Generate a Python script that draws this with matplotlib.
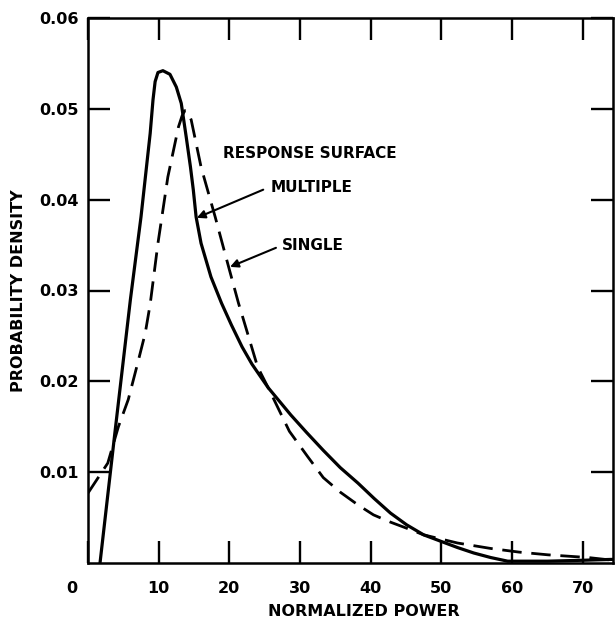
import numpy as np
import matplotlib
matplotlib.use('Agg')
import matplotlib.pyplot as plt
import matplotlib.transforms as mtransforms

# values
multiple_x = [1.7, 3.8, 6.0, 7.5, 8.8, 9.2, 9.5, 9.9, 10.6, 11.6, 12.5, 13.2, 13.9, 14.5, 14.9,
              15.3, 16.0, 17.4, 18.9, 20.3, 21.8, 23.2, 24.7, 25.5, 28.7, 30.9, 33.3, 35.7,
              38.2, 40.5, 42.8, 45.1, 47.5, 49.9, 52.3, 54.6, 57.0, 59.4, 65.0, 70.0, 74.3]
multiple_y = [0.0, 0.0143, 0.0290, 0.0381, 0.0473, 0.0510, 0.0530, 0.0540, 0.0542, 0.0538,
              0.0524, 0.0506, 0.0469, 0.0436, 0.0411, 0.0381, 0.0352, 0.0315, 0.0286, 0.0262,
              0.0238, 0.0219, 0.0202, 0.0193, 0.0163, 0.0144, 0.0124, 0.0105, 0.0088, 0.0071,
              0.0055, 0.0042, 0.0031, 0.0024, 0.0017, 0.0011, 0.0006, 0.0002, 0.0002, 0.0003,
              0.0004]

single_x = [0.0, 2.8, 4.3, 5.7, 6.9, 8.1, 8.8, 9.9, 11.3, 12.8, 13.3, 13.7, 14.1, 14.6, 15.3,
            16.0, 18.0, 19.9, 21.3, 22.0, 24.0, 25.5, 28.5, 31.1, 33.3, 35.7, 38.2, 40.4, 42.8,
            45.2, 47.5, 52.3, 57.0, 61.0, 65.1, 70.8, 74.3]
single_y = [0.0077, 0.0110, 0.0150, 0.0180, 0.0216, 0.0253, 0.0285, 0.0352, 0.0425, 0.0480,
            0.0492, 0.0498, 0.0497, 0.0488, 0.0462, 0.0436, 0.0381, 0.0326, 0.0286, 0.0268,
            0.0216, 0.0193, 0.0145, 0.0117, 0.0094, 0.0078, 0.0064, 0.0053, 0.0045, 0.0038,
            0.0031, 0.0022, 0.0016, 0.0012, 0.0009, 0.0006, 0.0003]

x_ticks = [0, 10, 20, 30, 40, 50, 60, 70]
x_labels = ['0', '10', '20', '30', '40', '50', '60', '70']
y_ticks = [0.01, 0.02, 0.03, 0.04, 0.05, 0.06]
y_labels = ['0.01', '0.02', '0.03', '0.04', '0.05', '0.06']

plt.rcParams['font.family'] = ['DejaVu Sans']
plt.rcParams['font.weight'] = 'bold'

fig = plt.figure(figsize=(6.15, 6.23), dpi=100)
ax = fig.add_axes([88 / 615, 60 / 623, 525 / 615, 545 / 623])

ax.plot(multiple_x, multiple_y, color='black', lw=2.3, solid_joinstyle='round')
ax.plot(single_x, single_y, color='black', lw=2.0, dashes=(7, 3.5))

ax.set_xlim(0, 74.3)
ax.set_ylim(0, 0.06)

ax.set_xticks(x_ticks)
ax.set_xticklabels(x_labels)
ax.set_yticks(y_ticks)
ax.set_yticklabels(y_labels)

ax.tick_params(direction='in', length=16, width=1.7, top=True, right=True,
               labelsize=11.5, colors='black')
ax.tick_params(axis='x', pad=13)
ax.tick_params(axis='y', pad=7)
for s in ax.spines.values():
    s.set_linewidth(1.8)

# the "0" label sits left of the axis corner in the original
lbl0 = ax.get_xticklabels()[0]
lbl0.set_transform(lbl0.get_transform() + mtransforms.ScaledTranslation(-0.16, 0, fig.dpi_scale_trans))

ax.set_xlabel('NORMALIZED POWER', fontsize=11.5, fontweight='bold')
ax.xaxis.set_label_coords(0.526, -0.075)
ax.set_ylabel('PROBABILITY DENSITY', fontsize=11.5, fontweight='bold')
ax.yaxis.set_label_coords(-0.118, 0.5)

ax.text(19.1, 0.0451, 'RESPONSE SURFACE', fontsize=11, fontweight='bold', va='center')
ax.text(25.8, 0.0413, 'MULTIPLE', fontsize=11, fontweight='bold', va='center')
ax.text(27.5, 0.0350, 'SINGLE', fontsize=11, fontweight='bold', va='center')

arrow = dict(arrowstyle='-|>', color='black', lw=1.5, mutation_scale=12, shrinkA=0, shrinkB=0)
ax.annotate('', xy=(15.4, 0.0380), xytext=(24.8, 0.0411), arrowprops=arrow)
ax.annotate('', xy=(20.1, 0.0326), xytext=(26.6, 0.0347), arrowprops=arrow)

fig.savefig('out.png', dpi=100)
